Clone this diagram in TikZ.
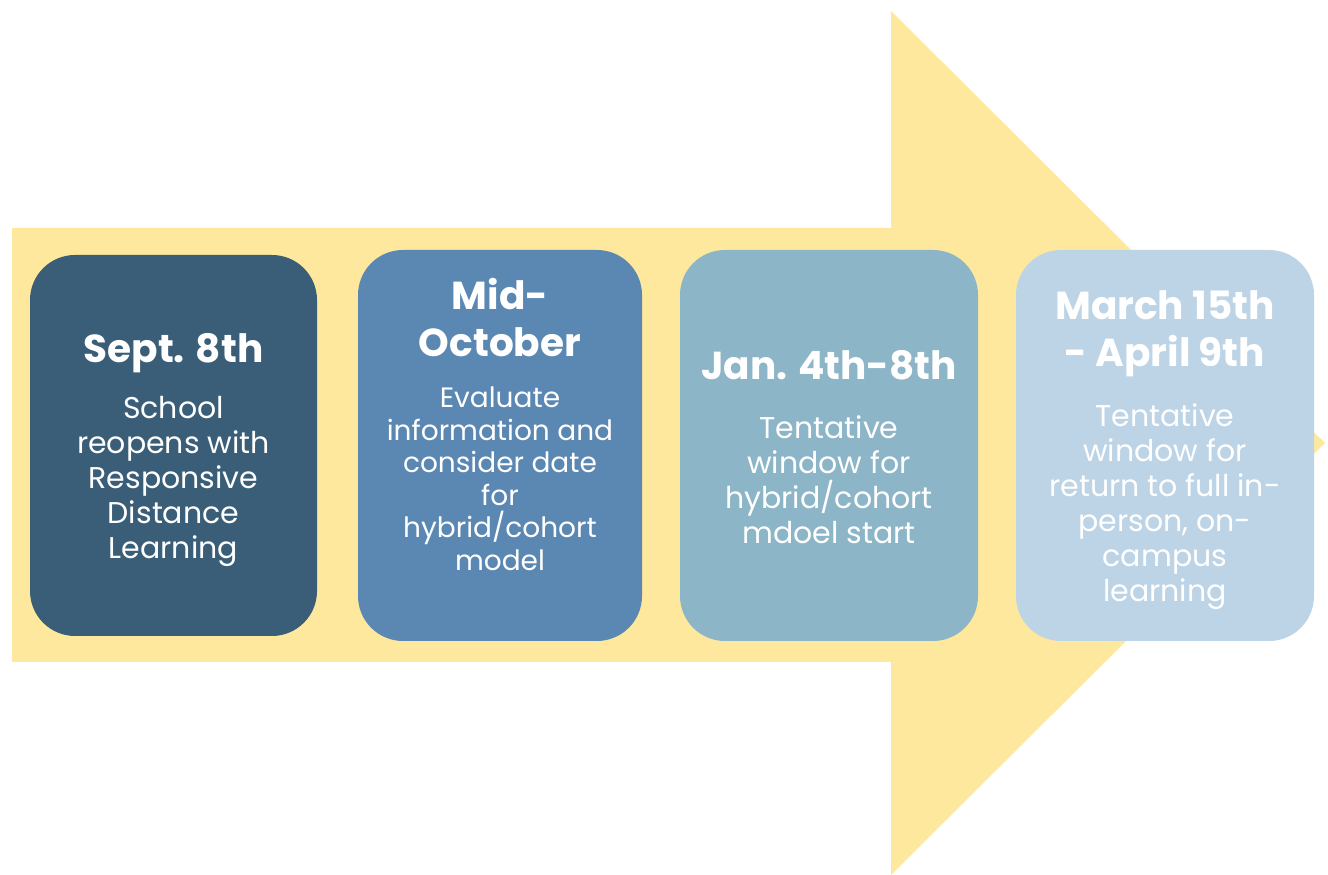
\documentclass[tikz,border=0pt]{standalone}
\usepackage{fontspec}
\setmainfont{Poppins}
\usetikzlibrary{positioning}
\definecolor{arrowyellow}{HTML}{FEE89E}
\definecolor{boxone}{HTML}{3A5E78}
\definecolor{boxtwo}{HTML}{5B88B2}
\definecolor{boxthree}{HTML}{8CB5C7}
\definecolor{boxfour}{HTML}{BDD4E6}
\tikzset{
  stagebox/.style={rounded corners=45pt, minimum height=391pt, inner sep=0pt},
  stagetitle/.style={text=white, align=center, inner sep=0pt, anchor=north,
    font=\fontsize{39}{47}\selectfont\bfseries},
  stagebody/.style={text=white, align=center, inner sep=0pt, anchor=north,
    font=\fontsize{30}{35}\selectfont}
}
\begin{document}
\begin{tikzpicture}[x=1pt, y=1pt]
	\useasboundingbox (0,0) rectangle (1328,875);
	% big arrow behind the boxes
	\fill[arrowyellow] (12,647) -- (891,647) -- (891,864) -- (1325,432)
		-- (891,0) -- (891,213) -- (12,213) -- cycle;
	
	\node[stagebox, fill=boxone, minimum width=287pt, minimum height=381pt] (b1) at (173.5,429.5) {};
	\node[stagebox, fill=boxtwo, minimum width=284pt] (b2) at (500,429.5) {};
	\node[stagebox, fill=boxthree, minimum width=298pt] (b3) at (829,429.5) {};
	\node[stagebox, fill=boxfour, minimum width=298pt] (b4) at (1165,429.5) {};
	
	\node[stagetitle] (t1) at (173.5,542) {Sept. 8th};
	\node[stagebody] (d1) at (173.5,479) {School\\reopens with\\Responsive\\Distance\\Learning};
	
	\node[stagetitle] (t2) at (500,597) {Mid-\\October};
	\node[stagebody, font=\fontsize{28}{32.5}\selectfont] (d2) at (500,488) {Evaluate\\information and\\consider date\\for\\hybrid/cohort\\model};
	
	\node[stagetitle] (t3) at (829,525) {Jan. 4th-8th};
	\node[stagebody] (d3) at (829,460) {Tentative\\window for\\hybrid/cohort\\mdoel start};
	
	\node[stagetitle] (t4) at (1165,585) {March 15th\\- April 9th};
	\node[stagebody] (d4) at (1165,472) {Tentative\\window for\\return to full in-\\person, on-\\campus\\learning};
	
\end{tikzpicture}
\end{document}
